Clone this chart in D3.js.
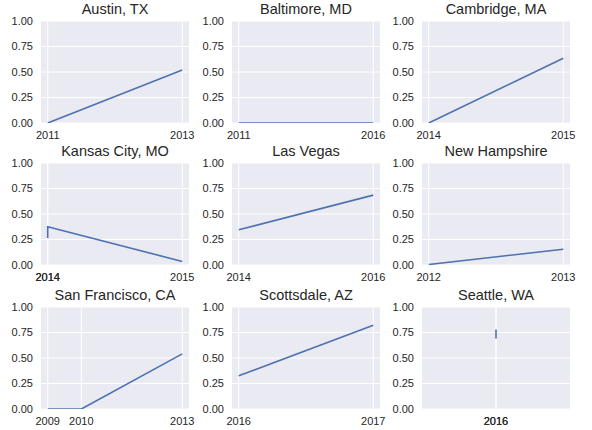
<!DOCTYPE html>
<html>
<head>
<meta charset="utf-8">
<script src="https://cdn.jsdelivr.net/npm/d3@7"></script>
<style>
  html, body { margin: 0; padding: 0; background: #ffffff; }
  svg { display: block; font-family: "Liberation Sans", Arial, sans-serif; }
</style>
</head>
<body>
<svg id="chart" width="592" height="430"></svg>
<script>
// ---- data ----
const cities = ["Austin, TX", "Baltimore, MD", "Cambridge, MA",
                "Kansas City, MO", "Las Vegas", "New Hampshire",
                "San Francisco, CA", "Scottsdale, AZ", "Seattle, WA"];
const years = [
  [2011, 2013],
  [2011, 2016],
  [2014, 2015],
  [2014, 2014, 2015],
  [2014, 2016],
  [2012, 2013],
  [2009, 2010, 2013],
  [2016, 2017],
  [2016, 2016]
];
const rates = [
  [0.0, 0.52],
  [0.0, 0.0],
  [0.0, 0.635],
  [0.265, 0.375, 0.035],
  [0.345, 0.685],
  [0.005, 0.155],
  [0.0, 0.0, 0.54],
  [0.325, 0.82],
  [0.69, 0.78]
];
const yTicks = [0, 0.25, 0.5, 0.75, 1.0];

// ---- layout ----
const colLeft = [41, 232, 422];
const rowTop = [21, 163, 307];
const pw = 148, ph = 102;
const bg = "#EAEAF2", lineColor = "#4C72B0", textColor = "#262626";

const svg = d3.select("#chart");

cities.forEach((city, i) => {
  const r = Math.floor(i / 3), c = i % 3;
  const g = svg.append("g").attr("transform", `translate(${colLeft[c]},${rowTop[r]})`);
  const xs = years[i], ys = rates[i];
  let lo = d3.min(xs), hi = d3.max(xs);
  if (lo === hi) { lo -= 0.1; hi += 0.1; }
  const m = (hi - lo) * 0.05;
  const x = d3.scaleLinear().domain([lo - m, hi + m]).range([0, pw]);
  const y = d3.scaleLinear().domain([0, 1]).range([ph, 0]);

  g.append("rect").attr("width", pw).attr("height", ph).attr("fill", bg);

  // grid
  g.selectAll(".hg").data(yTicks).join("line")
    .attr("x1", 0).attr("x2", pw)
    .attr("y1", d => y(d)).attr("y2", d => y(d))
    .attr("stroke", "#fff").attr("stroke-width", 1);
  g.selectAll(".vg").data(xs).join("line")
    .attr("y1", 0).attr("y2", ph)
    .attr("x1", d => x(d)).attr("x2", d => x(d))
    .attr("stroke", "#fff").attr("stroke-width", 1);

  // clip
  const cid = "clip" + i;
  g.append("clipPath").attr("id", cid).append("rect").attr("width", pw).attr("height", ph);

  const pts = xs.map((d, k) => [d, ys[k]]);
  g.append("path").datum(pts)
    .attr("clip-path", `url(#${cid})`)
    .attr("fill", "none").attr("stroke", lineColor).attr("stroke-width", 1.6)
    .attr("d", d3.line().x(d => x(d[0])).y(d => y(d[1])));

  // y tick labels
  g.selectAll(".yt").data(yTicks).join("text")
    .attr("x", -8).attr("y", d => y(d)).attr("dy", "0.36em")
    .attr("text-anchor", "end").attr("font-size", 11).attr("fill", textColor)
    .text(d => d3.format(".2f")(d));

  // x tick labels
  g.selectAll(".xt").data(xs).join("text")
    .attr("x", d => x(d)).attr("y", ph + 16)
    .attr("text-anchor", "middle").attr("font-size", 11).attr("fill", textColor)
    .text(d => String(d));

  // title
  g.append("text").attr("x", pw / 2).attr("y", -7)
    .attr("text-anchor", "middle").attr("font-size", 14.5).attr("fill", textColor)
    .text(city);
});
</script>
</body>
</html>
